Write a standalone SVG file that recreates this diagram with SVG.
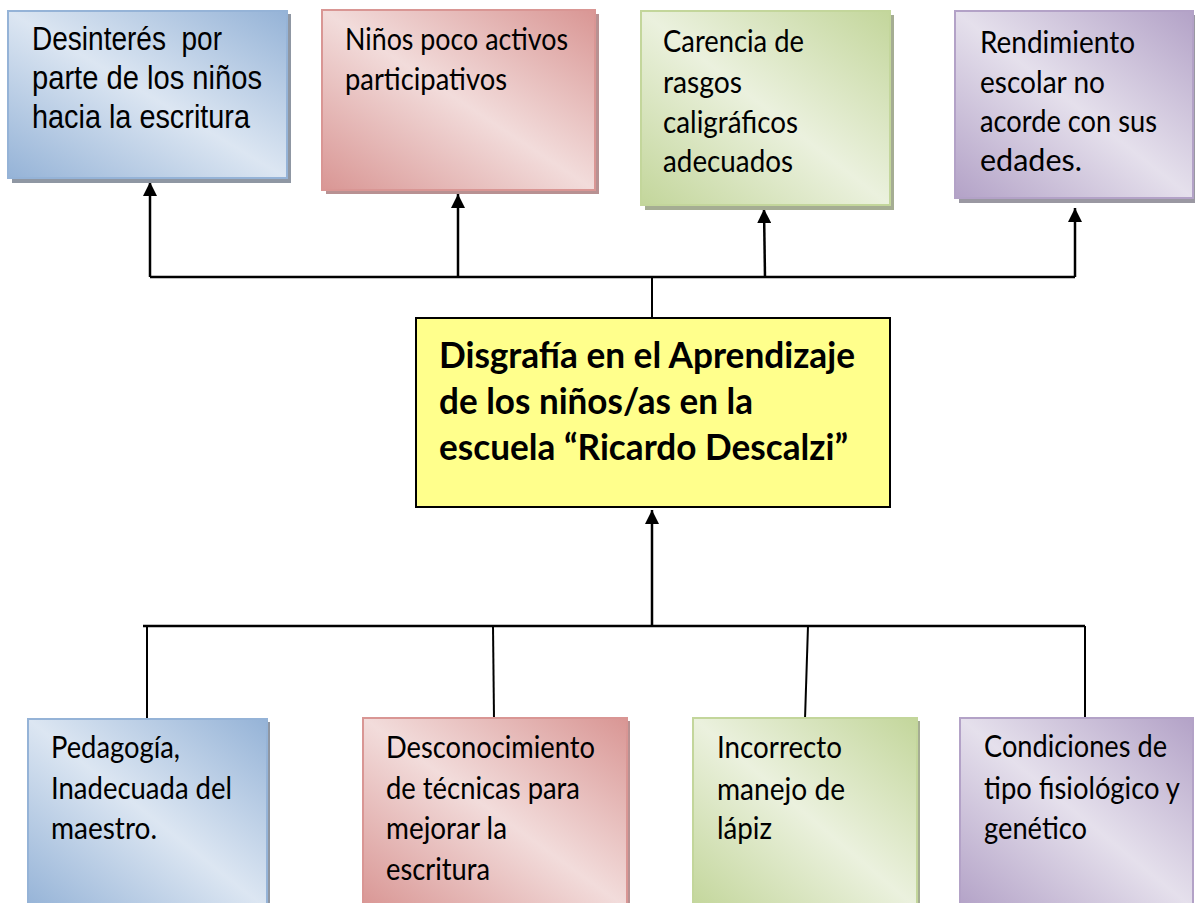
<svg xmlns="http://www.w3.org/2000/svg" width="1195" height="903" viewBox="0 0 1195 903">
<defs>
<linearGradient id="gBlue" x1="1" y1="0" x2="0" y2="1"><stop offset="0" stop-color="#95b3d7"/><stop offset="0.5" stop-color="#dce6f2"/><stop offset="1" stop-color="#95b3d7"/></linearGradient>
<linearGradient id="gRed" x1="1" y1="0" x2="0" y2="1"><stop offset="0" stop-color="#d99694"/><stop offset="0.5" stop-color="#f2dcdb"/><stop offset="1" stop-color="#d99694"/></linearGradient>
<linearGradient id="gGreen" x1="1" y1="0" x2="0" y2="1"><stop offset="0" stop-color="#c3d69b"/><stop offset="0.5" stop-color="#ebf1de"/><stop offset="1" stop-color="#c3d69b"/></linearGradient>
<linearGradient id="gPurple" x1="1" y1="0" x2="0" y2="1"><stop offset="0" stop-color="#b3a2c7"/><stop offset="0.5" stop-color="#e5e0ec"/><stop offset="1" stop-color="#b3a2c7"/></linearGradient>
<marker id="arr" markerUnits="userSpaceOnUse" markerWidth="16" markerHeight="14" refX="14" refY="7" orient="auto"><path d="M0,0 L14,7 L0,14 Z" fill="#000"/></marker>
</defs>
<style>
.sh{fill:#8f97a3;}
.blue{fill:url(#gBlue);stroke:#95b3d7;stroke-width:2;}
.red{fill:url(#gRed);stroke:#d99694;stroke-width:2;}
.green{fill:url(#gGreen);stroke:#c3d69b;stroke-width:2;}
.purple{fill:url(#gPurple);stroke:#b3a2c7;stroke-width:2;}
.t{font-family:Lato,"Open Sans",sans-serif;font-size:31px;fill:#000;}
.ta{font-family:"Liberation Sans",Arial,sans-serif;font-size:33px;fill:#000;}
.tb{font-family:Lato,"Open Sans",sans-serif;font-size:37px;font-weight:bold;fill:#000;}
.ln{stroke:#000;stroke-width:2.5;fill:none;}
.ln2{stroke:#000;stroke-width:2;fill:none;}
</style>
<g id="connectors">
<path class="ln" d="M150,277 H1075"/>
<path class="ln" d="M150,277 V182" marker-end="url(#arr)"/>
<path class="ln" d="M458,277 V194" marker-end="url(#arr)"/>
<path class="ln" d="M765,277 L764,209" marker-end="url(#arr)"/>
<path class="ln" d="M1075,277 V208" marker-end="url(#arr)"/>
<path class="ln2" d="M652,277 V318"/>
<path class="ln" d="M652,625 V510" marker-end="url(#arr)"/>
<path class="ln" d="M143,626 H1085"/>
<path class="ln2" d="M147,626 V719"/>
<path class="ln2" d="M493,626 L494,719"/>
<path class="ln2" d="M808,626 L805,719"/>
<path class="ln2" d="M1085,626 V719"/>
</g>
<g id="n1">
<rect class="sh" x="12" y="14" width="279" height="169"/>
<rect class="blue" x="8" y="11" width="279" height="167"/>
<text class="ta" x="32" y="50" textLength="190" lengthAdjust="spacingAndGlyphs" xml:space="preserve">Desinterés  por</text>
<text class="ta" x="32" y="89" textLength="230" lengthAdjust="spacingAndGlyphs">parte de los niños</text>
<text class="ta" x="32" y="128" textLength="218" lengthAdjust="spacingAndGlyphs">hacia la escritura</text>
</g>
<g id="n2">
<rect class="sh" x="326" y="14" width="273" height="180" style="fill:#b89192"/>
<rect class="red" x="322" y="10" width="273" height="180"/>
<text class="t" x="345" y="50" textLength="223" lengthAdjust="spacingAndGlyphs">Niños poco activos</text>
<text class="t" x="345" y="90" textLength="162" lengthAdjust="spacingAndGlyphs">participativos</text>
</g>
<g id="n3">
<rect class="sh" x="645" y="15" width="249" height="195" style="fill:#a5ad93"/>
<rect class="green" x="641" y="11" width="249" height="194"/>
<text class="t" x="663" y="52" textLength="141" lengthAdjust="spacingAndGlyphs">Carencia de</text>
<text class="t" x="663" y="93" textLength="79" lengthAdjust="spacingAndGlyphs">rasgos</text>
<text class="t" x="663" y="133" textLength="135" lengthAdjust="spacingAndGlyphs">caligráficos</text>
<text class="t" x="663" y="172" textLength="130" lengthAdjust="spacingAndGlyphs">adecuados</text>
</g>
<g id="n4">
<rect class="sh" x="959" y="15" width="236" height="188" style="fill:#9a98a2"/>
<rect class="purple" x="955" y="11" width="238" height="187"/>
<text class="t" x="980" y="53" textLength="155" lengthAdjust="spacingAndGlyphs">Rendimiento</text>
<text class="t" x="980" y="93" textLength="125" lengthAdjust="spacingAndGlyphs">escolar no</text>
<text class="t" x="980" y="132" textLength="177" lengthAdjust="spacingAndGlyphs">acorde con sus</text>
<text class="t" x="980" y="171" textLength="102" lengthAdjust="spacingAndGlyphs">edades.</text>
</g>
<g id="center">
<rect x="416" y="318" width="474" height="189" fill="#ffff8c" stroke="#000" stroke-width="2"/>
<text class="tb" x="439" y="368" textLength="416" lengthAdjust="spacingAndGlyphs">Disgrafía en el Aprendizaje</text>
<text class="tb" x="439" y="414" textLength="314" lengthAdjust="spacingAndGlyphs">de los niños/as en la</text>
<text class="tb" x="439" y="460" textLength="409" lengthAdjust="spacingAndGlyphs">escuela “Ricardo Descalzi”</text>
</g>
<g id="n5">
<rect class="sh" x="31" y="722" width="239" height="190"/>
<rect class="blue" x="28" y="719" width="239" height="190"/>
<text class="t" x="51" y="758" textLength="129" lengthAdjust="spacingAndGlyphs">Pedagogía,</text>
<text class="t" x="51" y="799" textLength="181" lengthAdjust="spacingAndGlyphs">Inadecuada del</text>
<text class="t" x="51" y="839" textLength="106" lengthAdjust="spacingAndGlyphs">maestro.</text>
</g>
<g id="n6">
<rect class="sh" x="366" y="721" width="264" height="190" style="fill:#b89192"/>
<rect class="red" x="363" y="718" width="264" height="190"/>
<text class="t" x="386" y="758" textLength="209" lengthAdjust="spacingAndGlyphs">Desconocimiento</text>
<text class="t" x="386" y="799" textLength="194" lengthAdjust="spacingAndGlyphs">de técnicas para</text>
<text class="t" x="386" y="839" textLength="121" lengthAdjust="spacingAndGlyphs">mejorar la</text>
<text class="t" x="386" y="880" textLength="104" lengthAdjust="spacingAndGlyphs">escritura</text>
</g>
<g id="n7">
<rect class="sh" x="696" y="721" width="224" height="190" style="fill:#a5ad93"/>
<rect class="green" x="693" y="718" width="224" height="190"/>
<text class="t" x="717" y="758" textLength="125" lengthAdjust="spacingAndGlyphs">Incorrecto</text>
<text class="t" x="717" y="800" textLength="128" lengthAdjust="spacingAndGlyphs">manejo de</text>
<text class="t" x="717" y="839" textLength="55" lengthAdjust="spacingAndGlyphs">lápiz</text>
</g>
<g id="n8">
<rect class="purple" x="960" y="718" width="233" height="190"/>
<text class="t" x="984" y="757" textLength="183" lengthAdjust="spacingAndGlyphs">Condiciones de</text>
<text class="t" x="984" y="799" textLength="196" lengthAdjust="spacingAndGlyphs">tipo fisiológico y</text>
<text class="t" x="984" y="839" textLength="103" lengthAdjust="spacingAndGlyphs">genético</text>
</g>
</svg>
